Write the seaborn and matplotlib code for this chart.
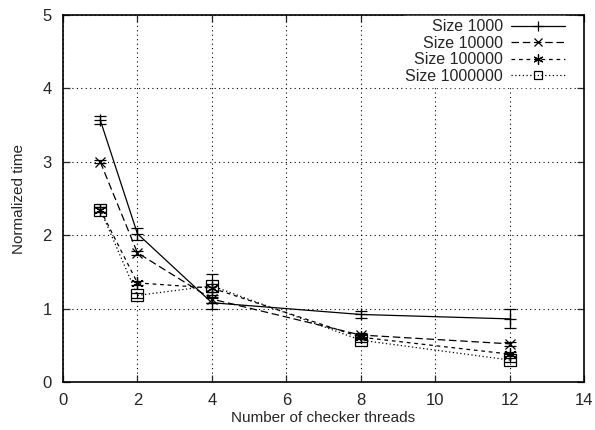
import matplotlib
matplotlib.use("Agg")
import matplotlib.pyplot as plt
import seaborn as sns
import pandas as pd
from matplotlib.lines import Line2D

threads = [1, 2, 4, 8, 12]
series_names = ["Size 1000", "Size 10000", "Size 100000", "Size 1000000"]
size_1000 = [3.57, 2.02, 1.08, 0.92, 0.86]
size_10000 = [3.00, 1.76, 1.13, 0.64, 0.52]
size_100000 = [2.35, 1.35, 1.28, 0.61, 0.38]
size_1000000 = [2.35, 1.18, 1.31, 0.57, 0.30]
err_1000 = [0.06, 0.08, 0.08, 0.05, 0.13]
err_10000 = [0.02, 0.03, 0.05, 0.03, 0.03]
err_100000 = [0.03, 0.03, 0.05, 0.03, 0.03]
err_1000000 = [0.03, 0.03, 0.16, 0.03, 0.03]

values = [size_1000, size_10000, size_100000, size_1000000]
errors = [err_1000, err_10000, err_100000, err_1000000]

sns.set_style("ticks")
plt.rcParams['font.family'] = ['Liberation Sans', 'DejaVu Sans']

rows = []
for name, vals in zip(series_names, values):
    for t, v in zip(threads, vals):
        rows.append({"threads": t, "time": v, "series": name})
df = pd.DataFrame(rows)

fig = plt.figure(figsize=(5.95, 4.3), dpi=100)
ax = fig.add_axes([63/595, 1 - 382/430, (584 - 63)/595, (382 - 15)/430])

styles = [
    dict(ls="-", marker="+", ms=9, dashes=None),
    dict(ls="--", marker="x", ms=7, dashes=(6, 3)),
    dict(ls="--", marker=(6, 2, 0), ms=9, dashes=(3, 3)),
    dict(ls=":", marker="s", ms=8, dashes=(1, 2)),
]

for name, vals, errs, st in zip(series_names, values, errors, styles):
    sub = df[df["series"] == name]
    sns.lineplot(data=sub, x="threads", y="time", ax=ax, color="black",
                 lw=0.9, legend=False, marker=st["marker"], ms=st["ms"],
                 mfc="none", mec="black", mew=0.9, linestyle=st["ls"])
    line = ax.lines[-1]
    if st["dashes"] is not None:
        line.set_dashes(st["dashes"])
    ax.errorbar(threads, vals, yerr=errs, fmt="none", ecolor="black",
                elinewidth=0.9, capsize=4, capthick=0.9)

ax.set_xlim(0, 14)
ax.set_ylim(0, 5)
ax.set_xticks(range(0, 15, 2))
ax.set_yticks(range(0, 6))
ax.set_xlabel("Number of checker threads", fontsize=11, labelpad=2)
ax.set_ylabel("Normalized time", fontsize=11, labelpad=12)
ax.tick_params(direction="in", top=True, right=True, labelsize=12, length=5,
               width=0.9, pad=8)
ax.grid(True, color="black", linestyle=(0, (1, 3)), linewidth=0.8)
for s in ax.spines.values():
    s.set_linewidth(1.2)
    s.set_color("black")

handles = []
for name, st in zip(series_names, styles):
    h = Line2D([0], [0], color="black", lw=0.9, linestyle=st["ls"],
               marker=st["marker"], ms=st["ms"] * 0.8, mfc="none", mec="black", mew=0.9)
    if st["dashes"] is not None:
        h.set_dashes(st["dashes"])
    handles.append(h)
leg = ax.legend(handles, series_names, loc="upper right", markerfirst=False,
                bbox_to_anchor=((566 - 63) / 521 + 0.005, 0.997),
                frameon=True, fontsize=11.5, handlelength=3.4, labelspacing=0.1,
                borderaxespad=0.0, borderpad=0.2, handletextpad=0.5)
leg.get_frame().set_facecolor("white")
leg.get_frame().set_edgecolor("white")
leg.get_frame().set_alpha(1)

fig.savefig("out.png", dpi=100)
